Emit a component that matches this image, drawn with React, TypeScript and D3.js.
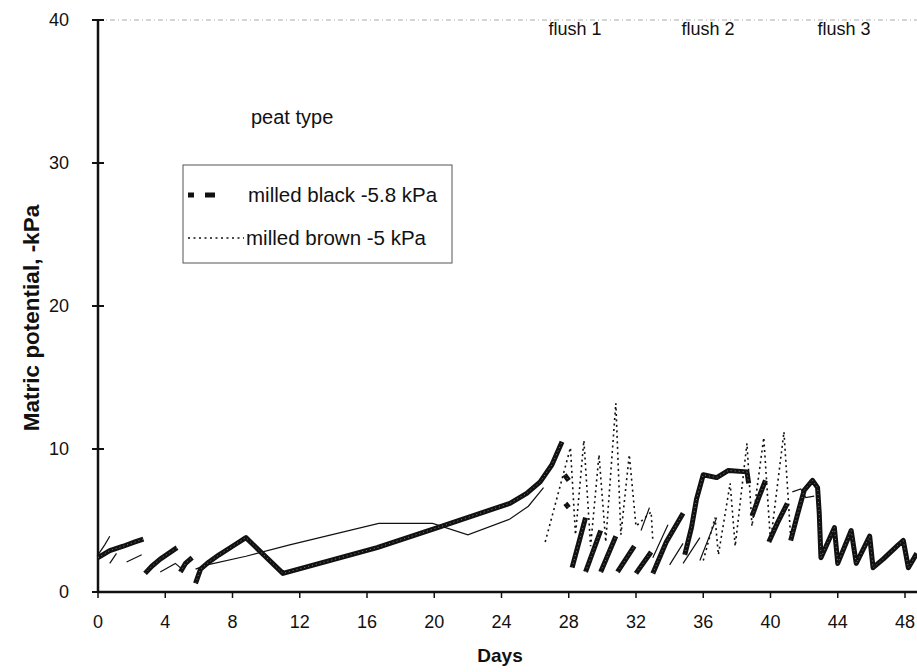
import React from "react";
import * as d3 from "d3";

type P = [number, number] | null;

// x axis ticks (days) and y axis ticks (-kPa)
const dayTicks = [0, 4, 8, 12, 16, 20, 24, 28, 32, 36, 40, 44, 48];
const kpaTicks = [0, 10, 20, 30, 40];

// milled black peat (-5.8 kPa) — thick line, null breaks the line
const milledBlack: P[] = [
  [0, 2.4], [0.7, 2.9], [1.5, 3.2], [2.2, 3.5], [2.7, 3.7], null,
  [2.8, 1.3], [3.2, 1.8], [3.7, 2.3], [4.2, 2.7], [4.7, 3.1], null,
  [4.9, 1.4], [5.2, 2.0], [5.6, 2.4], null,
  [5.8, 0.6], [6.1, 1.6], [6.6, 2.1], [7.2, 2.6], [8.0, 3.2], [8.8, 3.8],
  [11.0, 1.3], [16.6, 3.1], [20.2, 4.5], [24.5, 6.2], [25.5, 6.9], [26.3, 7.7],
  [27.0, 8.9], [27.6, 10.5], null,
  [27.75, 8.2], [28.0, 7.8], null,
  [27.8, 6.2], [28.0, 5.9], null,
  [28.2, 1.7], [29.0, 5.2], null,
  [29.0, 1.4], [29.9, 4.3], null,
  [29.9, 1.4], [30.8, 3.9], null,
  [30.9, 1.4], [31.9, 3.2], null,
  [32.0, 1.3], [32.9, 2.8], null,
  [33.0, 1.3], [33.8, 3.5], [34.8, 5.5], null,
  [34.9, 2.6], [35.3, 4.5], [35.6, 6.5], [36.0, 8.2], [36.8, 8.0], [37.5, 8.5],
  [38.6, 8.4], [38.7, 7.6], null,
  [38.9, 5.3], [39.3, 6.6], [39.7, 7.8], null,
  [39.9, 3.5], [40.4, 4.8], [41.0, 6.2], null,
  [41.2, 3.6], [41.6, 5.4], [42.0, 7.1], [42.5, 7.8], [42.8, 7.3], [42.9, 5.5],
  [43.0, 2.4], [43.8, 4.5], [44.0, 2.0], [44.8, 4.3], [45.1, 2.0], [45.9, 3.9],
  [46.1, 1.7], [46.7, 2.3], [47.6, 3.3], [47.9, 3.6], [48.2, 1.7], [48.7, 2.7],
];

// milled brown peat (-5 kPa) — dotted line
const milledBrown: P[] = [
  [26.6, 3.5], [28.1, 10.1], [28.4, 4.0], [28.9, 10.6], [29.3, 3.2], [29.8, 9.6],
  [30.2, 3.5], [30.8, 13.2], [31.1, 4.0], [31.6, 9.6], [32.0, 4.6], [32.9, 5.6],
  [33.0, 3.6], null,
  [36.0, 2.2], [36.7, 5.2], [36.9, 2.6], [37.6, 7.6], [37.9, 3.2], [38.6, 10.4],
  [38.9, 4.6], [39.6, 10.8], [40.0, 3.5], [40.8, 11.2], [41.2, 3.8],
];

// thin solid trace (unlabelled)
const thinTrace: P[] = [
  [0.0, 2.6], [0.4, 3.3], [0.7, 3.9], null,
  [0.7, 2.0], [1.1, 2.7], null,
  [1.7, 2.1], [2.6, 2.6], null,
  [3.7, 1.4], [4.6, 2.0], [5.0, 1.6], [5.6, 2.3], null,
  [5.8, 1.6], [6.5, 1.9], [8.8, 2.5], [11.4, 3.3], [16.7, 4.8], [19.9, 4.8],
  [22.0, 4.0], [24.5, 5.1], [25.6, 6.0], [26.5, 7.3], null,
  [32.3, 4.3], [32.8, 5.9], null,
  [33.0, 2.4], [33.9, 4.7], null,
  [34.0, 1.9], [34.8, 3.4], null,
  [34.8, 2.0], [35.8, 3.8], null,
  [35.8, 2.2], [36.8, 5.2], null,
  [41.3, 7.0], [41.8, 7.2], [42.1, 6.6], [42.6, 6.7],
];

const flushLabels = ["flush 1", "flush 2", "flush 3"];
const flushDays = [26.8, 34.7, 42.8];

const legendLabels = ["milled black -5.8 kPa", "milled brown -5 kPa"];

const W = 917;
const H = 672;

export default function App() {
  const x = d3.scaleLinear().domain([0, 48]).range([98, 905]);
  const y = d3.scaleLinear().domain([0, 40]).range([592, 20]);
  const line = d3
    .line<P>()
    .defined((d) => d !== null)
    .x((d) => x((d as [number, number])[0]))
    .y((d) => y((d as [number, number])[1]));

  const font = "'Liberation Sans', Arial, sans-serif";
  const ink = "#111";

  return (
    <svg
      width={W}
      height={H}
      style={{ position: "absolute", left: 0, top: 0, background: "#fff" }}
      fontFamily={font}
    >
      <rect x={0} y={0} width={W} height={H} fill="#fff" />
      {/* faint top border */}
      <line x1={x(0)} x2={W} y1={y(40)} y2={y(40)} stroke="#aaa" strokeWidth={1} strokeDasharray="5 3 1 3" />

      {/* y axis */}
      <line x1={x(0)} x2={x(0)} y1={y(40)} y2={y(0)} stroke={ink} strokeWidth={2.5} />
      {kpaTicks.map((t) => (
        <g key={"y" + t}>
          <line x1={x(0) - 6} x2={x(0) + 6} y1={y(t)} y2={y(t)} stroke={ink} strokeWidth={2} />
          <text x={69} y={y(t)} dy="0.35em" textAnchor="end" fontSize={18} fill={ink}>
            {t}
          </text>
        </g>
      ))}

      {/* x axis */}
      <line x1={x(0)} x2={W} y1={y(0)} y2={y(0)} stroke={ink} strokeWidth={2.5} />
      {dayTicks.map((t) => (
        <g key={"x" + t}>
          <line x1={x(t)} x2={x(t)} y1={y(0)} y2={y(0) + 6} stroke={ink} strokeWidth={1.5} />
          <text x={x(t)} y={y(0) + 36} textAnchor="middle" fontSize={18} fill={ink}>
            {t}
          </text>
        </g>
      ))}

      {/* axis titles */}
      <text x={500} y={662} textAnchor="middle" fontSize={19} fontWeight="bold" fill={ink}>
        Days
      </text>
      <text
        transform={`translate(39, ${318}) rotate(-90)`}
        textAnchor="middle"
        fontSize={22.5}
        fontWeight="bold"
        fill={ink}
      >
        Matric potential, -kPa
      </text>

      {/* annotations */}
      <text x={251} y={124} fontSize={20} fill={ink}>peat type</text>
      {flushLabels.map((f, i) => (
        <text key={f} x={x(flushDays[i])} y={35} fontSize={18} fill={ink}>
          {f}
        </text>
      ))}

      {/* data */}
      <path d={line(thinTrace) || ""} fill="none" stroke={ink} strokeWidth={1.2} />
      <path d={line(milledBrown) || ""} fill="none" stroke={ink} strokeWidth={1.6} strokeDasharray="2 3.5" />
      <path d={line(milledBlack) || ""} fill="none" stroke={ink} strokeWidth={5} strokeLinejoin="round" />
      <path
        d={line(milledBlack) || ""}
        fill="none"
        stroke="#fff"
        strokeOpacity={0.45}
        strokeWidth={1}
        strokeDasharray="1 3"
      />

      {/* legend */}
      <rect x={183} y={165} width={269} height={98} fill="#fff" stroke="#555" strokeWidth={1} />
      <line x1={188} x2={194} y1={195} y2={195} stroke={ink} strokeWidth={5} />
      <line x1={205} x2={215} y1={195} y2={195} stroke={ink} strokeWidth={5} />
      <text x={248} y={202} fontSize={20.5} fill={ink}>{legendLabels[0]}</text>
      <line x1={188} x2={244} y1={238} y2={238} stroke={ink} strokeWidth={1.4} strokeDasharray="2 3.5" />
      <text x={246} y={245} fontSize={20.5} fill={ink}>{legendLabels[1]}</text>
    </svg>
  );
}
